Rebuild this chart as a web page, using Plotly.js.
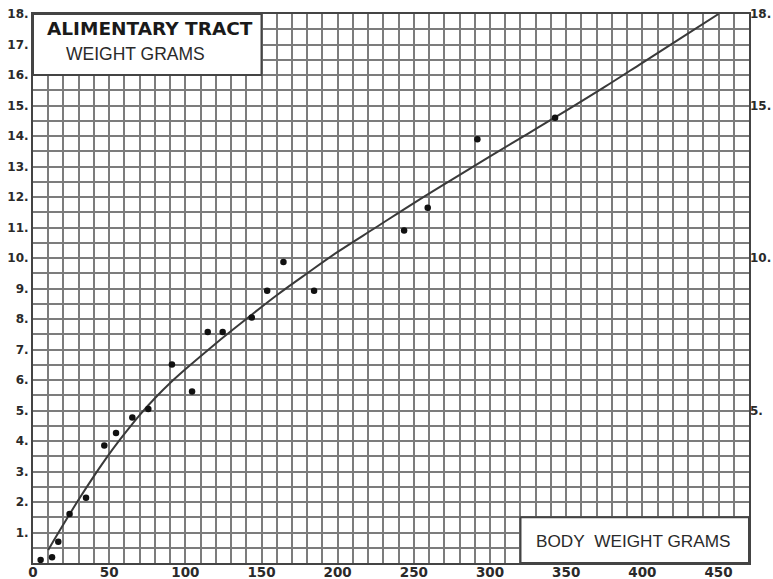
<!DOCTYPE html>
<html>
<head>
<meta charset="utf-8">
<script src="https://cdn.plot.ly/plotly-3.0.1.min.js"></script>
<style>html,body{margin:0;padding:0;background:#fff;}#chart{width:773px;height:579px;}</style>
</head>
<body>
<div id="chart"></div>
<script>
// Observed data points (body weight g, alimentary tract weight g)
const bodyWeight = [5, 12.5, 16.6, 24, 34.8, 46.8, 54.5, 65.2, 75.7, 91.2, 104.4, 114.7, 124.5, 143.6, 153.7, 164.4, 184.5, 243.6, 259.1, 291.7, 342.7];
const tractWeight = [0.1, 0.19, 0.7, 1.61, 2.14, 3.85, 4.26, 4.77, 5.05, 6.51, 5.62, 7.57, 7.57, 8.05, 8.93, 9.87, 8.93, 10.9, 11.65, 13.89, 14.6];

// Smooth fitted curve
const curveX = [10, 20, 30, 40, 50, 60, 70, 80, 90, 100, 120, 140, 160, 180, 200, 225, 250, 275, 300, 325, 350, 375, 400, 425, 450];
const curveY = [0.43, 1.27, 2.08, 2.85, 3.57, 4.23, 4.85, 5.4, 5.9, 6.35, 7.2, 8.0, 8.78, 9.5, 10.2, 11.0, 11.8, 12.57, 13.33, 14.08, 14.83, 15.6, 16.4, 17.2, 18.0];

// Tick labels
const xLabelVals = [0, 50, 100, 150, 200, 250, 300, 350, 400, 450];
const yLabelVals = [1, 2, 3, 4, 5, 6, 7, 8, 9, 10, 11, 12, 13, 14, 15, 16, 17, 18];
const yRightVals = [5, 10, 15, 18];

// Grid ticks (graph paper): every 10 on x, every 0.5 on y
const xGrid = [], xGridText = [];
for (let v = 0; v <= 470; v += 10) { xGrid.push(v); xGridText.push(xLabelVals.includes(v) ? String(v) : ''); }
const yGrid = [], yGridText = [];
for (let v = 0; v <= 18.001; v += 0.5) { yGrid.push(v); yGridText.push(yLabelVals.includes(v) ? v + '.' : ''); }

const ink = '#2a2a2a';
const gridCol = '#7c7c7c';

const traces = [
  { x: curveX, y: curveY, mode: 'lines', line: { color: '#3a3a3a', width: 2, shape: 'spline' }, hoverinfo: 'skip', showlegend: false },
  { x: bodyWeight, y: tractWeight, mode: 'markers', marker: { color: '#111', size: 6.5 }, showlegend: false },
  { x: [0], y: [0], yaxis: 'y2', mode: 'markers', marker: { opacity: 0 }, hoverinfo: 'skip', showlegend: false }
];

const layout = {
  width: 773, height: 579,
  margin: { l: 33, r: 24, t: 14, b: 16, pad: 0 },
  paper_bgcolor: '#fff', plot_bgcolor: '#fff',
  showlegend: false,
  xaxis: {
    range: [0, 470], tickmode: 'array', tickvals: xGrid, ticktext: xGridText,
    showgrid: true, gridcolor: gridCol, gridwidth: 2, zeroline: false,
    showline: true, linecolor: '#444', linewidth: 2, mirror: true,
    ticks: '', ticklabelstandoff: -4,
    tickfont: { family: 'DejaVu Sans', size: 13.5, color: ink, weight: 'bold' }
  },
  yaxis: {
    range: [0, 18], tickmode: 'array', tickvals: yGrid, ticktext: yGridText,
    showgrid: true, gridcolor: gridCol, gridwidth: 2, zeroline: false,
    showline: true, linecolor: '#444', linewidth: 2, mirror: true,
    ticks: '', tickfont: { family: 'DejaVu Sans', size: 12, color: ink, weight: 'bold' }
  },
  yaxis2: {
    overlaying: 'y', side: 'right', range: [0, 18], tickmode: 'array',
    tickvals: yRightVals, ticktext: yRightVals.map(v => v + '.'),
    showgrid: false, zeroline: false, showline: false, ticks: '',
    tickfont: { family: 'DejaVu Sans', size: 12, color: ink, weight: 'bold' }
  },
  shapes: [
    { type: 'rect', xref: 'x', yref: 'y', x0: 0, x1: 150, y0: 16, y1: 18, fillcolor: '#fff', line: { color: '#444', width: 2 }, layer: 'above' },
    { type: 'rect', xref: 'x', yref: 'y', x0: 320, x1: 470, y0: 0, y1: 1.5, fillcolor: '#fff', line: { color: '#444', width: 2 }, layer: 'above' }
  ],
  annotations: [
    { xref: 'x', yref: 'y', x: 76.5, y: 17.52, text: 'ALIMENTARY TRACT', showarrow: false, font: { family: 'DejaVu Sans', size: 18.5, color: '#1a1a1a', weight: 'bold' } },
    { xref: 'x', yref: 'y', x: 67.5, y: 16.68, text: 'WEIGHT GRAMS', showarrow: false, font: { family: 'Liberation Sans', size: 17.5, color: '#2a2a2a' } },
    { xref: 'x', yref: 'y', x: 394, y: 0.72, text: 'BODY&nbsp;&nbsp;WEIGHT GRAMS', showarrow: false, font: { family: 'Liberation Sans', size: 17.2, color: '#2a2a2a' } }
  ]
};

Plotly.newPlot('chart', traces, layout, { staticPlot: true, displayModeBar: false });
</script>
</body>
</html>
